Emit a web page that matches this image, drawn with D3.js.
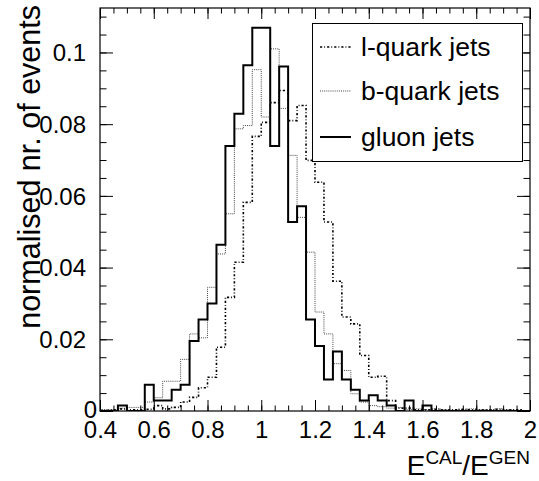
<!DOCTYPE html>
<html>
<head>
<meta charset="utf-8">
<script src="https://cdn.jsdelivr.net/npm/d3@7"></script>
<style>
  body { margin: 0; background: #fff; }
  svg { display: block; }
  text { font-family: "Liberation Sans", Arial, Helvetica, sans-serif; fill: #000; }
</style>
</head>
<body>
<svg id="chart" width="539" height="481"></svg>
<script>
// Histogram binning: 48 bins of width 1/30 from 0.4 to 2.0
const binStart = 0.4;
const binWidth = 1 / 30;
const binEnd = 2.0;

// Normalised bin contents, one entry per bin
const lQuark = [
  0.0002, 0.0003, 0.0006, 0.0003, 0.0003, 0.0005, 0.0015, 0.0006,
  0.0010, 0.0025, 0.0038, 0.0065, 0.0094, 0.0178, 0.0317, 0.0415,
  0.0582, 0.0766, 0.0805, 0.0860, 0.0894, 0.0810, 0.0852, 0.0699,
  0.0638, 0.0527, 0.0362, 0.0262, 0.0243, 0.0155, 0.0094, 0.0097,
  0.0029, 0.0008, 0.0008, 0.0003, 0.0003, 0.0005, 0.0003, 0.0003,
  0.0005, 0.0003, 0.0003, 0.0003, 0.0005, 0.0003, 0.0003, 0.0000
];
const bQuark = [
  0.0004, 0.0004, 0.0008, 0.0010, 0.0010, 0.0025, 0.0037, 0.0083,
  0.0083, 0.0144, 0.0215, 0.0204, 0.0345, 0.0438, 0.0550, 0.0787,
  0.0796, 0.0952, 0.0820, 0.1010, 0.0844, 0.0713, 0.0540, 0.0443,
  0.0276, 0.0215, 0.0132, 0.0113, 0.0048, 0.0025, 0.0015, 0.0012,
  0.0008, 0.0010, 0.0004, 0.0006, 0.0004, 0.0006, 0.0004, 0.0002,
  0.0004, 0.0006, 0.0004, 0.0004, 0.0006, 0.0004, 0.0002, 0.0000
];
const gluon = [
  0.0000, 0.0000, 0.0015, 0.0000, 0.0000, 0.0073, 0.0029, 0.0029,
  0.0059, 0.0073, 0.0195, 0.0255, 0.0300, 0.0464, 0.0739, 0.0829,
  0.0964, 0.1069, 0.1069, 0.0739, 0.0961, 0.0527, 0.0571, 0.0255,
  0.0181, 0.0088, 0.0166, 0.0088, 0.0059, 0.0029, 0.0044, 0.0029,
  0.0015, 0.0000, 0.0029, 0.0000, 0.0015, 0.0000, 0.0000, 0.0000,
  0.0000, 0.0000, 0.0000, 0.0000, 0.0000, 0.0000, 0.0000, 0.0000
];

// Axis ticks and their labels
const xTicks = [0.4, 0.6, 0.8, 1.0, 1.2, 1.4, 1.6, 1.8, 2.0];
const xTickLabels = ["0.4", "0.6", "0.8", "1", "1.2", "1.4", "1.6", "1.8", "2"];
const xMinorStep = 0.05;
const yTicks = [0, 0.02, 0.04, 0.06, 0.08, 0.1];
const yTickLabels = ["0", "0.02", "0.04", "0.06", "0.08", "0.1"];
const yMinorStep = 0.005;
const yMax = 0.1124;

const seriesNames = ["l-quark jets", "b-quark jets", "gluon jets"];

// ---------------------------------------------------------------
const svg = d3.select("#chart");
const frame = { left: 100, right: 530, top: 8, bottom: 411 };

const x = d3.scaleLinear().domain([binStart, binEnd]).range([frame.left, frame.right]);
const y = d3.scaleLinear().domain([0, yMax]).range([frame.bottom, frame.top]);

const styles = [
  { stroke: "#000", width: 1.6, dash: "2.2,2,0.9,2" },   // l-quark: dash-dot
  { stroke: "#444", width: 1.0, dash: "1,1.1" },         // b-quark: dotted
  { stroke: "#000", width: 2.0, dash: null }             // gluon: solid
];
const allSeries = [lQuark, bQuark, gluon];

svg.append("defs").append("clipPath").attr("id", "plotClip")
  .append("rect")
  .attr("x", frame.left).attr("y", frame.top)
  .attr("width", frame.right - frame.left).attr("height", frame.bottom - frame.top);

// Step outline of each histogram
const step = d3.line()
  .x(d => x(d[0]))
  .y(d => y(d[1]))
  .curve(d3.curveStepAfter);

const histG = svg.append("g").attr("clip-path", "url(#plotClip)");
allSeries.forEach((vals, s) => {
  const pts = vals.map((v, i) => [binStart + i * binWidth, v]);
  pts.push([binEnd, vals[vals.length - 1]]);
  const p = histG.append("path")
    .attr("d", step(pts))
    .attr("fill", "none")
    .attr("stroke", styles[s].stroke)
    .attr("stroke-width", styles[s].width)
    .attr("stroke-linejoin", "miter");
  if (styles[s].dash) p.attr("stroke-dasharray", styles[s].dash);
});

// Frame
svg.append("rect")
  .attr("x", frame.left).attr("y", frame.top)
  .attr("width", frame.right - frame.left).attr("height", frame.bottom - frame.top)
  .attr("fill", "none").attr("stroke", "#000").attr("stroke-width", 1.2);

// Ticks (all pointing inward), minor and major, on all four sides
const xMinor = d3.range(binStart, binEnd + 1e-9, xMinorStep);
const yMinor = d3.range(0, yMax, yMinorStep);

function styleAxis(g) {
  g.select(".domain").remove();
  g.selectAll(".tick line").attr("stroke", "#000").attr("stroke-width", 1);
}

svg.append("g").attr("transform", `translate(0,${frame.bottom})`)
  .call(d3.axisBottom(x).tickValues(xMinor).tickSize(-5.5).tickFormat(""))
  .call(styleAxis);
svg.append("g").attr("transform", `translate(0,${frame.top})`)
  .call(d3.axisTop(x).tickValues(xMinor).tickSize(-5.5).tickFormat(""))
  .call(styleAxis);
svg.append("g").attr("transform", `translate(${frame.left},0)`)
  .call(d3.axisLeft(y).tickValues(yMinor).tickSize(-6.5).tickFormat(""))
  .call(styleAxis);
svg.append("g").attr("transform", `translate(${frame.right},0)`)
  .call(d3.axisRight(y).tickValues(yMinor).tickSize(-6.5).tickFormat(""))
  .call(styleAxis);

// Major ticks with labels
const xAxis = svg.append("g").attr("transform", `translate(0,${frame.bottom})`)
  .call(d3.axisBottom(x).tickValues(xTicks).tickSize(-11).tickPadding(10)
    .tickFormat((d, i) => xTickLabels[i]))
  .call(styleAxis);
xAxis.selectAll("text").attr("font-size", 24).attr("dy", "0.71em").attr("fill", "#000");

svg.append("g").attr("transform", `translate(0,${frame.top})`)
  .call(d3.axisTop(x).tickValues(xTicks).tickSize(-11).tickFormat(""))
  .call(styleAxis);

const yAxis = svg.append("g").attr("transform", `translate(${frame.left},0)`)
  .call(d3.axisLeft(y).tickValues(yTicks).tickSize(-13).tickPadding(14)
    .tickFormat((d, i) => yTickLabels[i]))
  .call(styleAxis);
yAxis.selectAll("text").attr("font-size", 24).attr("dy", "0.35em").attr("fill", "#000");
// the zero label sits tight against the axis corner
yAxis.selectAll(".tick").filter(d => d === 0).select("text").attr("x", -3).attr("dy", "0.25em");

svg.append("g").attr("transform", `translate(${frame.right},0)`)
  .call(d3.axisRight(y).tickValues(yTicks).tickSize(-13).tickFormat(""))
  .call(styleAxis);

// Axis titles
const xTitle = svg.append("text")
  .attr("x", frame.right).attr("y", 475)
  .attr("text-anchor", "end")
  .attr("font-size", 28);
xTitle.append("tspan").text("E");
xTitle.append("tspan").attr("font-size", 19).attr("dy", -11).text("CAL");
xTitle.append("tspan").attr("dy", 11).text("/E");
xTitle.append("tspan").attr("font-size", 19).attr("dy", -11).text("GEN");

svg.append("text")
  .attr("transform", `translate(40,5) rotate(-90)`)
  .attr("text-anchor", "end")
  .attr("font-size", 30.5)
  .text("normalised nr. of events");

// Legend
const legend = svg.append("g");
legend.append("rect")
  .attr("x", 312.5).attr("y", 23.5).attr("width", 210).attr("height", 138)
  .attr("fill", "#fff").attr("stroke", "#000").attr("stroke-width", 1);

const legendRows = [47, 91, 137];
seriesNames.forEach((name, s) => {
  const ly = legendRows[s];
  const ln = legend.append("line")
    .attr("x1", 320).attr("x2", 351).attr("y1", ly).attr("y2", ly)
    .attr("stroke", styles[s].stroke).attr("stroke-width", styles[s].width);
  if (styles[s].dash) ln.attr("stroke-dasharray", styles[s].dash);
  legend.append("text")
    .attr("x", 361).attr("y", ly + 9)
    .attr("font-size", 26.5)
    .text(name);
});
</script>
</body>
</html>
